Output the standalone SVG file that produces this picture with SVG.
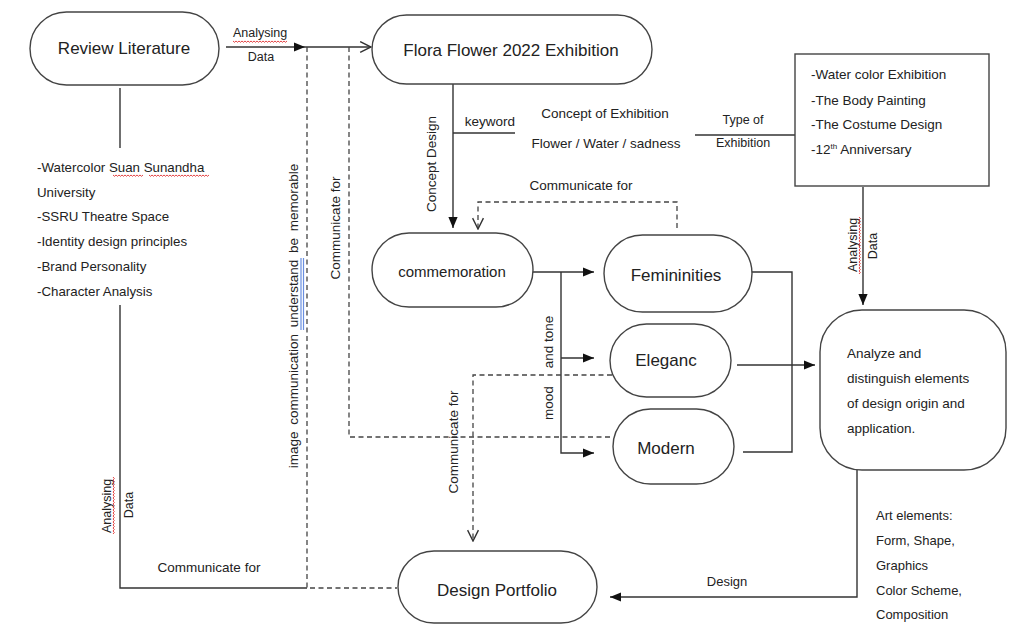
<svg xmlns="http://www.w3.org/2000/svg" width="1013" height="630" viewBox="0 0 1013 630">
<defs>
<style>
.n{fill:#fff;stroke:#444;stroke-width:1.4}
.l{fill:none;stroke:#333;stroke-width:1.4}
.d{fill:none;stroke:#444;stroke-width:1.3;stroke-dasharray:5 3.5}
.t{font-family:"Liberation Sans",Arial,sans-serif;fill:#222}
.big{font-size:17px;text-anchor:middle}
.sm{font-size:13px}
.mid{text-anchor:middle}
.sq{fill:none;stroke:#e03030;stroke-width:0.9}
</style>
<marker id="fa" viewBox="0 0 10 10" refX="10" refY="5" markerWidth="11" markerHeight="11" markerUnits="userSpaceOnUse" orient="auto"><path d="M0,0.8 L10,5 L0,9.2 z" fill="#111"/></marker>
<marker id="oa" viewBox="0 0 12 12" refX="11" refY="6" markerWidth="13" markerHeight="13" markerUnits="userSpaceOnUse" orient="auto"><path d="M1,1 L11,6 L1,11" fill="none" stroke="#333" stroke-width="1.3"/></marker>
</defs>
<rect width="1013" height="630" fill="#fff"/>

<g id="connectors">
<path class="l" d="M226,47 H305" marker-end="url(#fa)"/>
<path class="l" d="M305,47 H371" marker-end="url(#oa)"/>
<path class="d" d="M307,47 V588 H397"/>
<path class="d" d="M349,47 V437 H612"/>
<path class="l" d="M120,88 V148"/>
<path class="l" d="M120,305 V588 H307"/>
<path class="l" d="M453,84 V228" marker-end="url(#fa)"/>
<path class="l" d="M453,133 H515"/>
<path class="l" d="M695,135 H795"/>
<path class="l" d="M863,187 V305" marker-end="url(#fa)"/>
<path class="d" d="M677,228 V202 H478 V229" marker-end="url(#oa)"/>
<path class="l" d="M533,272 H594" marker-end="url(#fa)"/>
<path class="l" d="M561,272 V453 H594" marker-end="url(#fa)"/>
<path class="l" d="M561,358 H594" marker-end="url(#fa)"/>
<path class="l" d="M752,272 H792 V452 H743"/>
<path class="l" d="M737,365 H815" marker-end="url(#fa)"/>
<path class="d" d="M612,375 H473 V541" marker-end="url(#oa)"/>
<path class="l" d="M857,470 V597 H610" marker-end="url(#fa)"/>
</g>

<g id="labels">
<text class="t mid" x="260" y="37" font-size="12.5">Analysing</text>
<text class="t mid" x="261" y="61" font-size="12.5">Data</text>
<text class="t mid" transform="translate(436,164) rotate(-90)" font-size="13.5">Concept Design</text>
<text class="t mid" x="490" y="126" font-size="13.5">keyword</text>
<text class="t mid" x="605" y="118" font-size="13.5">Concept of Exhibition</text>
<text class="t mid" x="606" y="148" font-size="13.5">Flower / Water / sadness</text>
<text class="t mid" x="743" y="124" font-size="12.5">Type of</text>
<text class="t mid" x="743" y="147" font-size="12.5">Exhibition</text>
<text class="t mid" x="581" y="190" font-size="13.5">Communicate for</text>
<text class="t mid" transform="translate(857,245) rotate(-90)" font-size="12.5">Analysing</text>
<text class="t mid" transform="translate(877,246) rotate(-90)" font-size="12.5">Data</text>
<text class="t mid" transform="translate(298,316) rotate(-90)" font-size="13.5" word-spacing="3">image communication understand be memorable</text>
<text class="t mid" transform="translate(340,228) rotate(-90)" font-size="13.5">Communicate for</text>
<text class="t mid" transform="translate(553,403) rotate(-90)" font-size="13.5">mood</text>
<text class="t mid" transform="translate(553,342) rotate(-90)" font-size="13.5">and tone</text>
<text class="t mid" transform="translate(458,442) rotate(-90)" font-size="13.5">Communicate for</text>
<text class="t mid" transform="translate(111,506) rotate(-90)" font-size="12.5">Analysing</text>
<text class="t mid" transform="translate(133,505) rotate(-90)" font-size="12.5">Data</text>
<text class="t mid" x="209" y="572" font-size="13.5">Communicate for</text>
<text class="t mid" x="727" y="586" font-size="13">Design</text>
<g class="t sm" font-size="13">
<text x="876" y="520">Art elements:</text>
<text x="876" y="545">Form, Shape,</text>
<text x="876" y="570">Graphics</text>
<text x="876" y="595">Color Scheme,</text>
<text x="876" y="619">Composition</text>
</g>
<g class="t" font-size="13.3">
<text x="37" y="172">-Watercolor Suan Sunandha</text>
<text x="37" y="197">University</text>
<text x="37" y="221">-SSRU Theatre Space</text>
<text x="37" y="246">-Identity design principles</text>
<text x="37" y="271">-Brand Personality</text>
<text x="37" y="296">-Character Analysis</text>
</g>
<path class="sq" d="M233,41 l1.5,1.3 1.5,-1.3 1.5,1.3 1.5,-1.3 1.5,1.3 1.5,-1.3 1.5,1.3 1.5,-1.3 1.5,1.3 1.5,-1.3 1.5,1.3 1.5,-1.3 1.5,1.3 1.5,-1.3 1.5,1.3 1.5,-1.3 1.5,1.3 1.5,-1.3 1.5,1.3 1.5,-1.3 1.5,1.3 1.5,-1.3 1.5,1.3 1.5,-1.3 1.5,1.3 1.5,-1.3 1.5,1.3 1.5,-1.3 1.5,1.3 1.5,-1.3 1.5,1.3 1.5,-1.3 1.5,1.3 1.5,-1.3 1.5,1.3 1.5,-1.3"/>
<path class="sq" d="M113,175 l1.5,1.3 1.5,-1.3 1.5,1.3 1.5,-1.3 1.5,1.3 1.5,-1.3 1.5,1.3 1.5,-1.3 1.5,1.3 1.5,-1.3 1.5,1.3 1.5,-1.3 1.5,1.3 1.5,-1.3 1.5,1.3 1.5,-1.3 1.5,1.3 1.5,-1.3 1.5,1.3 1.5,-1.3"/>
<path class="sq" d="M149,175 l1.5,1.3 1.5,-1.3 1.5,1.3 1.5,-1.3 1.5,1.3 1.5,-1.3 1.5,1.3 1.5,-1.3 1.5,1.3 1.5,-1.3 1.5,1.3 1.5,-1.3 1.5,1.3 1.5,-1.3 1.5,1.3 1.5,-1.3 1.5,1.3 1.5,-1.3 1.5,1.3 1.5,-1.3 1.5,1.3 1.5,-1.3 1.5,1.3 1.5,-1.3 1.5,1.3 1.5,-1.3 1.5,1.3 1.5,-1.3 1.5,1.3 1.5,-1.3 1.5,1.3 1.5,-1.3 1.5,1.3 1.5,-1.3 1.5,1.3 1.5,-1.3 1.5,1.3 1.5,-1.3 1.5,1.3 1.5,-1.3"/>
<path class="sq" d="M859,217 l1.3,1.5 -1.3,1.5 1.3,1.5 -1.3,1.5 1.3,1.5 -1.3,1.5 1.3,1.5 -1.3,1.5 1.3,1.5 -1.3,1.5 1.3,1.5 -1.3,1.5 1.3,1.5 -1.3,1.5 1.3,1.5 -1.3,1.5 1.3,1.5 -1.3,1.5 1.3,1.5 -1.3,1.5 1.3,1.5 -1.3,1.5 1.3,1.5 -1.3,1.5 1.3,1.5 -1.3,1.5 1.3,1.5 -1.3,1.5 1.3,1.5 -1.3,1.5 1.3,1.5 -1.3,1.5 1.3,1.5 -1.3,1.5 1.3,1.5 -1.3,1.5 1.3,1.5 -1.3,1.5"/>
<path class="sq" d="M113,477 l1.3,1.5 -1.3,1.5 1.3,1.5 -1.3,1.5 1.3,1.5 -1.3,1.5 1.3,1.5 -1.3,1.5 1.3,1.5 -1.3,1.5 1.3,1.5 -1.3,1.5 1.3,1.5 -1.3,1.5 1.3,1.5 -1.3,1.5 1.3,1.5 -1.3,1.5 1.3,1.5 -1.3,1.5 1.3,1.5 -1.3,1.5 1.3,1.5 -1.3,1.5 1.3,1.5 -1.3,1.5 1.3,1.5 -1.3,1.5 1.3,1.5 -1.3,1.5 1.3,1.5 -1.3,1.5 1.3,1.5 -1.3,1.5 1.3,1.5 -1.3,1.5 1.3,1.5 -1.3,1.5"/>
<path d="M301,258 V330 M303.5,258 V330" stroke="#6a8fe0" stroke-width="1.2" fill="none"/>
</g>

<g id="review-literature">
<rect class="n" x="30" y="12" width="189" height="73" rx="36.5"/>
<text class="t big" x="124" y="54">Review Literature</text>
</g>
<g id="flora-flower">
<rect class="n" x="372" y="15" width="280" height="69" rx="34.5"/>
<text class="t big" x="511" y="56" font-size="17.5">Flora Flower 2022 Exhibition</text>
</g>
<g id="exhibition-types">
<rect class="n" x="795" y="54" width="194" height="132"/>
<g class="t" font-size="13.5">
<text x="811" y="79">-Water color Exhibition</text>
<text x="811" y="105">-The Body Painting</text>
<text x="811" y="129">-The Costume Design</text>
<text x="811" y="154">-12<tspan font-size="8" dy="-5">th</tspan><tspan dy="5"> Anniversary</tspan></text>
</g>
</g>
<g id="commemoration">
<rect class="n" x="372" y="233" width="161" height="74" rx="37"/>
<text class="t mid" x="452" y="277" font-size="15">commemoration</text>
</g>
<g id="femininities">
<rect class="n" x="604" y="235" width="148" height="77" rx="38.5"/>
<text class="t big" x="676" y="281">Femininities</text>
</g>
<g id="eleganc">
<rect class="n" x="610" y="324" width="121" height="73" rx="36.5"/>
<text class="t big" x="666" y="366">Eleganc</text>
</g>
<g id="modern">
<rect class="n" x="613" y="409" width="121" height="75" rx="37.5"/>
<text class="t big" x="666" y="454">Modern</text>
</g>
<g id="analyze">
<rect class="n" x="820" y="310" width="186" height="160" rx="42"/>
<g class="t" font-size="13.5">
<text x="847" y="358">Analyze and</text>
<text x="847" y="383">distinguish elements</text>
<text x="847" y="408">of design origin and</text>
<text x="847" y="433">application.</text>
</g>
</g>
<g id="design-portfolio">
<rect class="n" x="398" y="551" width="199" height="72" rx="36"/>
<text class="t big" x="497" y="596">Design Portfolio</text>
</g>
</svg>
